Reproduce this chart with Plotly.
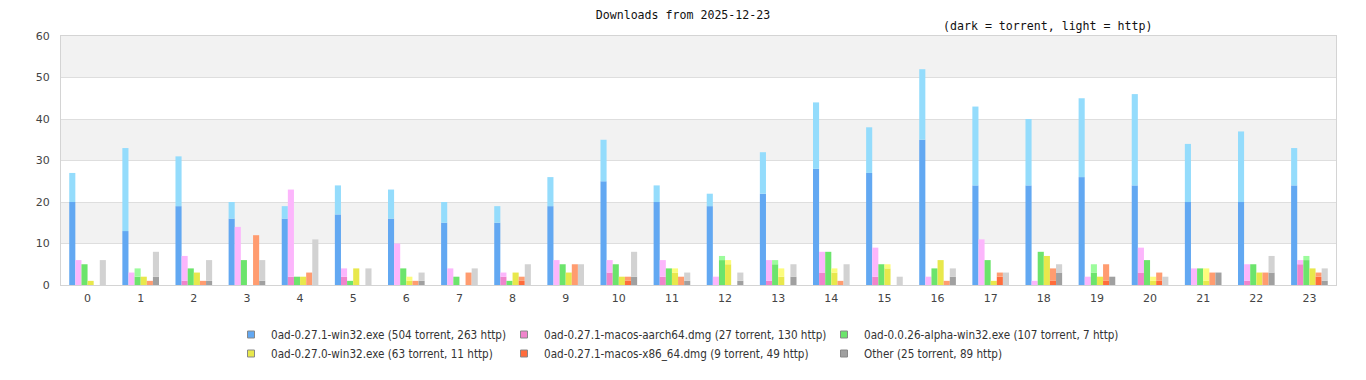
import plotly.graph_objects as go

hours = list(range(24))

series_names = [
    "0ad-0.27.1-win32.exe (504 torrent, 263 http)",
    "0ad-0.27.1-macos-aarch64.dmg (27 torrent, 130 http)",
    "0ad-0.0.26-alpha-win32.exe (107 torrent, 7 http)",
    "0ad-0.27.0-win32.exe (63 torrent, 11 http)",
    "0ad-0.27.1-macos-x86_64.dmg (9 torrent, 49 http)",
    "Other (25 torrent, 89 http)",
]

win32_torrent = [20, 13, 19, 16, 16, 17, 16, 15, 15, 19, 25, 20, 19, 22, 28, 27, 35, 24, 24, 26, 24, 20, 20, 24]
win32_http = [7, 20, 12, 4, 3, 7, 7, 5, 4, 7, 10, 4, 3, 10, 16, 11, 17, 19, 16, 19, 22, 14, 17, 9]
aarch64_torrent = [0, 0, 1, 0, 2, 2, 0, 0, 2, 0, 3, 2, 0, 1, 3, 2, 0, 0, 0, 0, 3, 0, 1, 5]
aarch64_http = [6, 3, 6, 14, 21, 2, 10, 4, 1, 6, 3, 4, 2, 5, 5, 7, 2, 11, 1, 2, 6, 4, 4, 1]
alpha_torrent = [5, 2, 4, 6, 2, 1, 4, 2, 1, 5, 5, 4, 6, 5, 8, 5, 4, 6, 8, 3, 6, 4, 5, 6]
alpha_http = [0, 2, 0, 0, 0, 0, 0, 0, 0, 0, 0, 0, 1, 1, 0, 0, 0, 0, 0, 2, 0, 0, 0, 1]
w0270_torrent = [1, 2, 3, 0, 2, 4, 1, 0, 3, 3, 2, 3, 5, 2, 3, 4, 6, 1, 7, 2, 1, 1, 3, 4]
w0270_http = [0, 0, 0, 0, 0, 0, 1, 0, 0, 0, 0, 1, 1, 2, 1, 1, 0, 0, 0, 0, 1, 3, 0, 0]
x86_torrent = [0, 0, 0, 0, 0, 0, 0, 0, 1, 0, 1, 0, 0, 0, 0, 0, 0, 2, 1, 1, 1, 0, 0, 2]
x86_http = [0, 1, 1, 12, 3, 0, 1, 3, 1, 5, 1, 2, 0, 0, 1, 0, 1, 1, 3, 4, 2, 3, 3, 1]
other_torrent = [0, 2, 1, 1, 0, 0, 1, 0, 0, 0, 2, 1, 1, 2, 0, 0, 2, 0, 3, 2, 0, 3, 3, 1]
other_http = [6, 6, 5, 5, 11, 4, 2, 4, 5, 5, 6, 2, 2, 3, 5, 2, 2, 3, 2, 0, 2, 0, 4, 3]

torrent = [win32_torrent, aarch64_torrent, alpha_torrent, w0270_torrent, x86_torrent, other_torrent]
http = [win32_http, aarch64_http, alpha_http, w0270_http, x86_http, other_http]

dark_colors = ["#62a8f2", "#f084cc", "#6ce46c", "#e8e84c", "#ff6c3c", "#a0a0a0"]
light_colors = ["#94dcfc", "#fcb6fc", "#9cfc9c", "#fcfc7c", "#ff9c70", "#d2d2d2"]

# legend columns: which series go in each of the three legend columns
columns = [[0, 3], [1, 4], [2, 5]]
legend_names = ["legend", "legend2", "legend3"]

fig = go.Figure()
for i in range(6):
    fig.add_trace(go.Bar(x=hours, y=torrent[i], marker=dict(color=dark_colors[i], line=dict(width=0)),
                         offsetgroup=str(i), showlegend=False, name=series_names[i] + " torrent"))
    fig.add_trace(go.Bar(x=hours, y=http[i], base=torrent[i], marker=dict(color=light_colors[i], line=dict(width=0)),
                         offsetgroup=str(i), showlegend=False, name=series_names[i] + " http"))

# small square legend keys, drawn on a hidden axis whose range excludes the point
for c, idxs in enumerate(columns):
    for i in idxs:
        fig.add_trace(go.Scatter(x=[0], y=[0], xaxis="x2", yaxis="y2", mode="markers", name=series_names[i],
                                 marker=dict(symbol="square", size=7, color=dark_colors[i],
                                             line=dict(color="#888888", width=1)),
                                 legend=legend_names[c], showlegend=True, hoverinfo="skip"))

legend_x = [223, 496, 816]
legend_font = dict(family="DejaVu Sans Condensed, DejaVu Sans", size=11.6, color="#333333")
legend_common = dict(orientation="v", xref="container", yref="container", xanchor="left", yanchor="top",
                     y=1 - 312 / 380, font=legend_font, bgcolor="rgba(0,0,0,0)", borderwidth=0,
                     itemwidth=30, tracegroupgap=0)
layout_legends = {}
for c, ln in enumerate(legend_names):
    layout_legends[ln] = dict(x=legend_x[c] / 1366, **legend_common)

shapes = []
for lo, hi in [(10, 20), (30, 40), (50, 60)]:
    shapes.append(dict(type="rect", xref="paper", yref="y", x0=0, x1=1, y0=lo, y1=hi,
                       fillcolor="#f2f2f2", line=dict(width=0), layer="below"))

fig.update_layout(
    width=1366, height=380,
    margin=dict(l=53, r=38, t=28, b=103, autoexpand=False),
    paper_bgcolor="white", plot_bgcolor="white",
    barmode="group", bargap=0.31, bargroupgap=0,
    title=dict(text="Downloads from 2025-12-23", x=675 / 1366, xanchor="center", xref="container",
               y=1 - 7 / 380, yanchor="middle", yref="container",
               font=dict(family="DejaVu Sans Mono", size=11.6, color="#111111")),
    annotations=[dict(text="(dark = torrent, light = http)", xref="paper", yref="paper",
                      x=(1047.5 - 61) / 1275, y=1 + 10 / 249, xanchor="center", yanchor="middle",
                      showarrow=False, font=dict(family="DejaVu Sans Mono", size=11.6, color="#111111"))],
    shapes=shapes,
    xaxis=dict(range=[-0.5, 23.5], tickmode="array", tickvals=hours, ticktext=[str(h) for h in hours],
               showgrid=False, zeroline=False, showline=True, linecolor="#d4d4d4", linewidth=1, mirror=True,
               ticks="outside", ticklen=3, tickcolor="rgba(0,0,0,0)", automargin=False,
               tickfont=dict(family="DejaVu Sans", size=11, color="#444444")),
    yaxis=dict(range=[0, 60], dtick=10, showgrid=True, gridcolor="#dedede", gridwidth=1, zeroline=False,
               showline=True, linecolor="#d4d4d4", linewidth=1, mirror=True,
               ticks="outside", ticklen=8, tickcolor="rgba(0,0,0,0)", automargin=False,
               tickfont=dict(family="DejaVu Sans", size=11, color="#444444")),
    xaxis2=dict(overlaying="x", range=[1, 2], visible=False),
    yaxis2=dict(overlaying="y", range=[1, 2], visible=False),
    **layout_legends,
)

fig.write_html("out.html")
